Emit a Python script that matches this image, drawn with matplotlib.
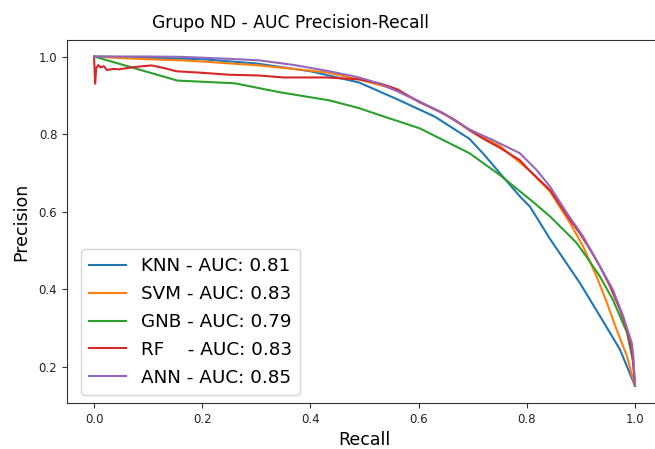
import matplotlib
matplotlib.use("Agg")
import matplotlib.pyplot as plt

# Precision-recall curves per classifier (recall, precision)
knn_recall = [0.0, 0.1, 0.2, 0.3, 0.4, 0.49, 0.565, 0.63, 0.694, 0.722, 0.75, 0.787,
              0.806, 0.843, 0.898, 0.935, 0.972, 1.0]
knn_precision = [1.0, 0.997, 0.993, 0.982, 0.962, 0.933, 0.887, 0.845, 0.788, 0.746, 0.700, 0.640,
                 0.613, 0.530, 0.417, 0.332, 0.246, 0.152]

svm_recall = [0.0, 0.05, 0.1, 0.163, 0.2, 0.306, 0.43, 0.49, 0.55, 0.602, 0.65, 0.694,
              0.75, 0.806, 0.843, 0.88, 0.904, 0.929, 0.948, 0.966, 0.985, 1.0]
svm_precision = [1.0, 0.996, 0.993, 0.990, 0.987, 0.977, 0.959, 0.941, 0.918, 0.883, 0.850, 0.811,
                 0.770, 0.705, 0.652, 0.571, 0.511, 0.434, 0.366, 0.297, 0.229, 0.152]

gnb_recall = [0.0, 0.154, 0.26, 0.343, 0.435, 0.49, 0.528, 0.602, 0.694, 0.75, 0.811,
              0.843, 0.88, 0.892, 0.91, 0.935, 0.959, 0.985, 0.997, 1.0]
gnb_precision = [1.0, 0.938, 0.931, 0.908, 0.887, 0.867, 0.849, 0.815, 0.751, 0.695, 0.626,
                 0.588, 0.537, 0.520, 0.485, 0.434, 0.374, 0.290, 0.213, 0.152]

rf_recall = [0.0, 0.002, 0.004, 0.008, 0.012, 0.018, 0.024, 0.035, 0.046, 0.07, 0.09, 0.107,
             0.13, 0.152, 0.2, 0.25, 0.306, 0.35, 0.43, 0.49, 0.53, 0.56, 0.602, 0.64, 0.67,
             0.694, 0.72, 0.75, 0.787, 0.806, 0.843, 0.88, 0.898, 0.917, 0.935, 0.954, 0.972,
             0.985, 0.994, 0.997, 1.0]
rf_precision = [1.0, 0.93, 0.97, 0.978, 0.972, 0.975, 0.965, 0.968, 0.967, 0.972, 0.975, 0.977,
                0.970, 0.962, 0.958, 0.953, 0.951, 0.946, 0.946, 0.941, 0.930, 0.916, 0.882, 0.858,
                0.834, 0.810, 0.788, 0.765, 0.733, 0.705, 0.656, 0.579, 0.545, 0.503, 0.460, 0.408,
                0.349, 0.297, 0.246, 0.203, 0.152]

ann_recall = [0.0, 0.1, 0.163, 0.25, 0.306, 0.37, 0.435, 0.49, 0.528, 0.565, 0.602, 0.65,
              0.694, 0.74, 0.787, 0.818, 0.843, 0.874, 0.904, 0.935, 0.959, 0.978, 0.994,
              0.997, 1.0]
ann_precision = [1.0, 1.0, 0.999, 0.994, 0.990, 0.978, 0.962, 0.946, 0.930, 0.908, 0.884, 0.850,
                 0.812, 0.783, 0.751, 0.708, 0.665, 0.597, 0.537, 0.460, 0.400, 0.332, 0.263,
                 0.229, 0.152]

labels = ["KNN - AUC: 0.81", "SVM - AUC: 0.83", "GNB - AUC: 0.79",
          "RF    - AUC: 0.83", "ANN - AUC: 0.85"]
colors = ["#1f77b4", "#ff7f0e", "#2ca02c", "#d62728", "#9467bd"]

series = [(knn_recall, knn_precision), (svm_recall, svm_precision),
          (gnb_recall, gnb_precision), (rf_recall, rf_precision),
          (ann_recall, ann_precision)]

fig = plt.figure(figsize=(6.55, 4.49), dpi=100)
W, H = 655, 449
ax = fig.add_axes([67 / W, (H - 403) / H, (662 - 67) / W, (403 - 40) / H])

for (r, p), lab, c in zip(series, labels, colors):
    ax.plot(r, p, color=c, label=lab, linewidth=1.5)

ax.set_xlim(-0.05, 1.05)
ax.set_ylim(0.1075, 1.0425)
ax.set_xticks([0.0, 0.2, 0.4, 0.6, 0.8, 1.0])
ax.set_yticks([0.2, 0.4, 0.6, 0.8, 1.0])
ax.tick_params(labelsize=8.5, length=3.5, color="#333333", labelcolor="#222222")
for s in ax.spines.values():
    s.set_color("#333333")
ax.spines["right"].set_visible(False)

ax.set_xlabel("Recall", fontsize=12.5, labelpad=4)
ax.set_ylabel("Precision", fontsize=12.5, labelpad=6)
ax.set_title("Grupo ND - AUC Precision-Recall", fontsize=12.3,
             x=(291 - 67) / (662 - 67), pad=9)

ax.legend(loc="lower left", fontsize=13.2, bbox_to_anchor=(14 / 595, 8 / 363),
          borderaxespad=0.0, handlelength=2.0, labelspacing=0.54, borderpad=0.45,
          handletextpad=0.8)

fig.savefig("out.png", dpi=100)
